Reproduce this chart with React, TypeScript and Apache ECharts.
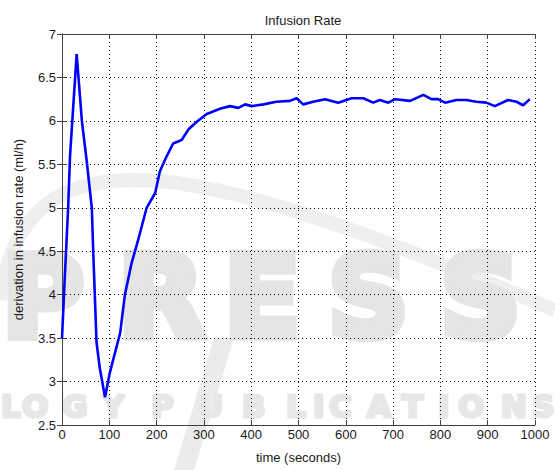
import React, { useEffect, useRef } from "react";
import * as echarts from "echarts";

// time (s) and infusion-rate derivation (ml/h)
const timeSec = [
  0, 6, 13, 17, 31, 42, 52, 63, 66, 70, 73, 80, 91, 101, 123, 133, 147, 161,
  179, 197, 207, 221, 235, 253, 267, 285, 306, 334, 355, 373, 387, 401, 426,
  453, 482, 496, 510, 531, 556, 584, 612, 637, 658, 672, 690, 704, 736, 764,
  781, 795, 810, 834, 855, 876, 897, 915, 943, 961, 975, 989,
];
const infusionRate = [
  3.5, 4.21, 5.0, 5.6, 6.77, 6.0, 5.55, 5.0, 4.5, 3.9, 3.45, 3.15, 2.82, 3.1,
  3.56, 4.0, 4.36, 4.63, 5.0, 5.17, 5.42, 5.59, 5.74, 5.78, 5.9, 5.99, 6.08,
  6.14, 6.17, 6.15, 6.19, 6.17, 6.19, 6.22, 6.23, 6.26, 6.19, 6.22, 6.25, 6.21,
  6.26, 6.26, 6.21, 6.24, 6.21, 6.25, 6.23, 6.3, 6.25, 6.25, 6.21, 6.24, 6.24,
  6.22, 6.21, 6.17, 6.24, 6.22, 6.18, 6.25,
];

const titleText = "Infusion Rate";
const xName = "time (seconds)";
const yName = "derivation in infusion rate (ml/h)";
const xMin = 0;
const xMax = 1000;
const xStep = 100;
const yMin = 2.5;
const yMax = 7;
const yStep = 0.5;

// watermark decoration (publisher stamp in the background)
const bigWord = ["P", "R", "E", "S", "S"];
const bigWordX = [2, 118, 224, 328, 440];
const smallWord = ["L", "O", "G", "Y", "P", "U", "B", "L", "I", "C", "A", "T", "I", "O", "N", "S"];
const smallWordX = [1, 22, 62, 102, 151, 198, 242, 286, 313, 329, 367, 402, 438, 458, 501, 532];

const FONT = "'Liberation Sans', Arial, Helvetica, sans-serif";
const TXT = "#1a1a1a";
const AX = "#404040";

export default function App() {
  const ref = useRef<HTMLDivElement>(null);
  useEffect(() => {
    if (!ref.current) return;
    const chart = echarts.init(ref.current, null, { renderer: "svg" });
    const data = timeSec.map((t, i) => [t, infusionRate[i]]);
    const graphics: any[] = [];
    bigWord.forEach((ch, i) => {
      graphics.push({
        type: "text",
        x: bigWordX[i],
        y: 297,
        z: -10,
        silent: true,
        style: {
          text: ch,
          fill: "#e5e5e5",
          stroke: "#e5e5e5",
          lineWidth: 9,
          fontSize: 112,
          fontWeight: "bold",
          fontFamily: "'DejaVu Sans', sans-serif",
          textAlign: "left",
          textVerticalAlign: "middle",
        },
      });
    });
    smallWord.forEach((ch, i) => {
      graphics.push({
        type: "text",
        x: smallWordX[i],
        y: 406,
        z: -10,
        silent: true,
        style: {
          text: ch,
          fill: "#e7e7e7",
          stroke: "#e7e7e7",
          lineWidth: 3,
          fontSize: 31,
          fontWeight: "bold",
          fontFamily: "'DejaVu Sans', sans-serif",
          textAlign: "left",
          textVerticalAlign: "middle",
        },
      });
    });
    graphics.push({
      type: "bezierCurve",
      z: -11,
      silent: true,
      shape: { x1: 0, y1: 300, cpx1: 25, cpy1: 110, cpx2: 220, cpy2: 170, x2: 555, y2: 310 },
      style: { stroke: "#efefef", lineWidth: 14, fill: null },
    });
    graphics.push({
      type: "polygon",
      z: -11,
      silent: true,
      shape: { points: [[214, 338], [234, 338], [194, 470], [174, 470]] },
      style: { fill: "#ebebeb" },
    });

    const mainX = {
      type: "value",
      min: xMin,
      max: xMax,
      interval: xStep,
      position: "bottom",
      name: xName,
      nameLocation: "middle",
      nameGap: 26,
      nameTextStyle: { fontSize: 13, color: TXT, fontFamily: FONT },
      axisLine: { show: true, lineStyle: { color: AX, width: 1 } },
      axisTick: { show: true, inside: true, length: 5, lineStyle: { color: AX } },
      axisLabel: {
        fontSize: 13,
        color: TXT,
        fontFamily: FONT,
        margin: 3,
        formatter: (v: number) => String(v),
      },
      splitLine: { show: true, lineStyle: { color: "#000", type: [1, 3], width: 1 } },
    };
    const topX = {
      type: "value",
      min: xMin,
      max: xMax,
      interval: xStep,
      position: "top",
      axisLine: { show: true, lineStyle: { color: AX, width: 1 } },
      axisTick: { show: true, inside: true, length: 5, lineStyle: { color: AX } },
      axisLabel: { show: false },
      splitLine: { show: false },
    };
    const mainY = {
      type: "value",
      min: yMin,
      max: yMax,
      interval: yStep,
      position: "left",
      name: yName,
      nameLocation: "middle",
      nameGap: 37,
      nameTextStyle: { fontSize: 13, color: TXT, fontFamily: FONT },
      axisLine: { show: true, lineStyle: { color: AX, width: 1 } },
      axisTick: { show: true, inside: true, length: 5, lineStyle: { color: AX } },
      axisLabel: {
        fontSize: 13,
        color: TXT,
        fontFamily: FONT,
        margin: 6,
        formatter: (v: number) => String(v),
      },
      splitLine: { show: true, lineStyle: { color: "#000", type: [1, 3], width: 1 } },
    };
    const rightY = {
      type: "value",
      min: yMin,
      max: yMax,
      interval: yStep,
      position: "right",
      axisLine: { show: true, lineStyle: { color: AX, width: 1 } },
      axisTick: { show: true, inside: true, length: 5, lineStyle: { color: AX } },
      axisLabel: { show: false },
      splitLine: { show: false },
    };

    chart.setOption({
      animation: false,
      backgroundColor: "#ffffff",
      title: {
        text: titleText,
        left: 298,
        top: 9,
        textAlign: "center",
        textStyle: { fontSize: 13, fontWeight: "normal", color: TXT, fontFamily: FONT },
      },
      grid: { left: 62, right: 20, top: 34, bottom: 45, containLabel: false },
      xAxis: [mainX, topX],
      yAxis: [mainY, rightY],
      graphic: graphics,
      series: [
        {
          type: "line",
          xAxisIndex: 0,
          yAxisIndex: 0,
          data,
          showSymbol: false,
          symbol: "none",
          smooth: false,
          lineStyle: { color: "#0000ff", width: 2.6 },
          z: 5,
        },
      ],
    });
    return () => chart.dispose();
  }, []);
  return (
    <div
      ref={ref}
      style={{ position: "fixed", left: 0, top: 0, width: 555, height: 470, background: "#fff" }}
    />
  );
}
